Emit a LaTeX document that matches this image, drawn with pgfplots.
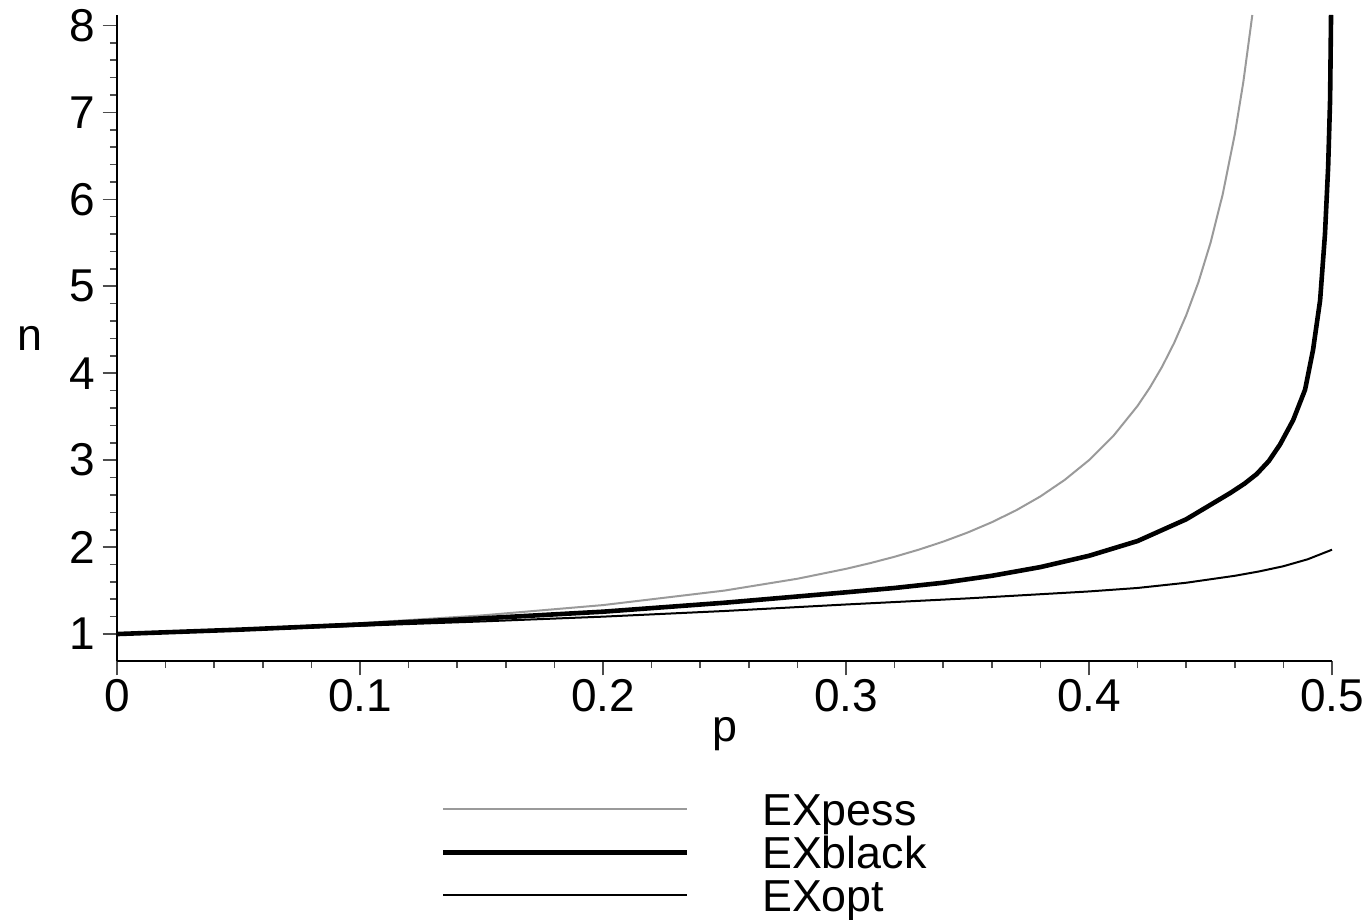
\documentclass[border=0pt]{standalone}
\usepackage{fontspec}
\setmainfont{Liberation Sans}
\usepackage{pgfplots}
\pgfplotsset{compat=1.18}
\definecolor{pessgray}{HTML}{9A9A9A}
\begin{document}
\fontsize{11.2}{13}\selectfont
\begin{tikzpicture}
\begin{axis}[
  scale only axis, width=303.75pt, height=161.5pt,
  xmin=0, xmax=0.5, ymin=0.69, ymax=8.12,
  axis lines*=left, axis line style={line width=0.5pt},
  tick align=outside,
  xtick={0,0.1,0.2,0.3,0.4,0.5}, ytick={1,2,3,4,5,6,7,8},
  minor x tick num=4, minor y tick num=4,
  major tick length=3.6pt, minor tick length=1.8pt,
  tick style={black!70, line width=0.4pt},
  /pgf/number format/assume math mode=true,
  ticklabel style={font=\fontsize{11.5}{13}\selectfont},
  xticklabel style={yshift=3pt},
  yticklabel style={xshift=2pt},
  xlabel={p}, ylabel={n},
  xlabel style={at={(rel axis cs:0.5,-0.125)}, anchor=base, font=\fontsize{11.2}{13}\selectfont},
  ylabel style={at={(rel axis cs:-0.0716,0.5)}, anchor=center, rotate=-90, font=\fontsize{11.2}{13}\selectfont},
  clip=false,
  legend cell align=left,
  legend image code/.code={\draw[#1] (0pt,1.5pt) -- (61pt,1.5pt);},
  legend style={at={(rel axis cs:0.2658,-0.2043)}, anchor=north west, draw=none, fill=none,
    inner sep=0pt, row sep=0pt, column sep=18.2pt,
    font=\fontsize{11.2}{13}\selectfont,
    nodes={inner sep=0pt, text height=8pt, text depth=2.75pt}},
]
% EXpess
\addplot[pessgray, line width=0.5pt] coordinates {
  (0,1) (0.05,1.056) (0.1,1.125) (0.15,1.214) (0.2,1.333) (0.25,1.5)
  (0.28,1.636) (0.3,1.75) (0.31,1.816) (0.32,1.889) (0.33,1.971) (0.34,2.063)
  (0.35,2.167) (0.36,2.286) (0.37,2.423) (0.38,2.583) (0.39,2.773) (0.4,3.0)
  (0.41,3.278) (0.42,3.625) (0.425,3.833) (0.43,4.071) (0.435,4.346) (0.44,4.667)
  (0.445,5.045) (0.45,5.5) (0.455,6.056) (0.46,6.75) (0.4635,7.349) (0.4672,8.12)
};
% EXblack
\addplot[black, line width=1.15pt] coordinates {
  (0,1) (0.05,1.05) (0.1,1.11) (0.15,1.18) (0.2,1.257) (0.25,1.36)
  (0.3,1.48) (0.32,1.53) (0.34,1.59) (0.36,1.67) (0.38,1.77) (0.40,1.90)
  (0.42,2.07) (0.44,2.32) (0.458,2.62) (0.464,2.73) (0.469,2.84) (0.474,2.99)
  (0.4786,3.18) (0.484,3.46) (0.4889,3.81) (0.4922,4.27) (0.4951,4.84) (0.4971,5.6)
  (0.4984,6.37) (0.4992,7.14) (0.4996,8.12)
};
% EXopt
\addplot[black, line width=0.5pt] coordinates {
  (0,1) (0.05,1.045) (0.1,1.095) (0.15,1.145) (0.2,1.2) (0.25,1.265)
  (0.3,1.34) (0.35,1.41) (0.4,1.49) (0.42,1.53) (0.44,1.59) (0.46,1.67)
  (0.47,1.72) (0.48,1.78) (0.49,1.86) (0.5,1.97)
};
\legend{EXpess, EXblack, EXopt}
\coordinate (bbl) at (rel axis cs:-0.0963,-0.4009);
\coordinate (btr) at (rel axis cs:1.0263,1.0232);
\end{axis}
\pgfresetboundingbox
\path[use as bounding box] (bbl) rectangle (btr);
\end{tikzpicture}
\end{document}
